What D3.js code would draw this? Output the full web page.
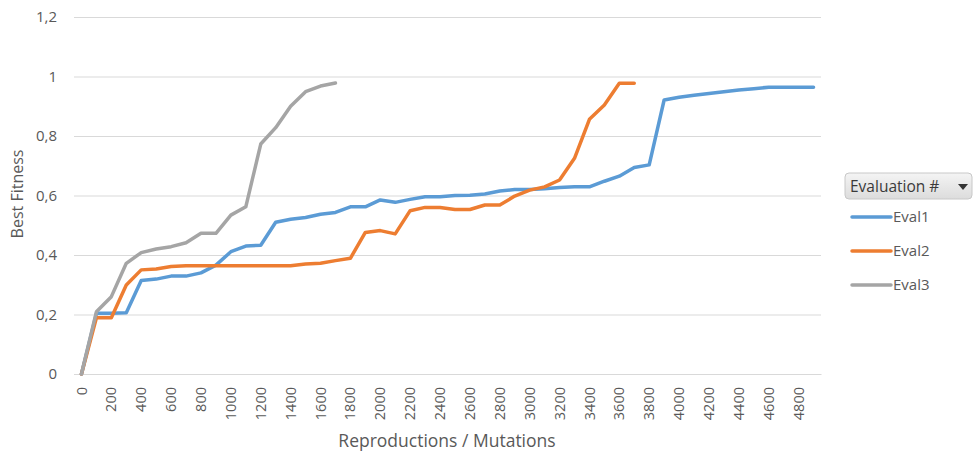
<!DOCTYPE html>
<html>
<head>
<meta charset="utf-8">
<script src="https://cdn.jsdelivr.net/npm/d3@7/dist/d3.min.js"></script>
<style>
  html, body { margin: 0; padding: 0; background: #fff; }
  svg { display: block; font-family: "Open Sans", "Noto Sans", sans-serif; }
</style>
</head>
<body>
<svg id="chart" width="973" height="455"></svg>
<script>
// Reproductions / mutations count, one category every 100
const categories = [0, 100, 200, 300, 400, 500, 600, 700, 800, 900,
  1000, 1100, 1200, 1300, 1400, 1500, 1600, 1700, 1800, 1900,
  2000, 2100, 2200, 2300, 2400, 2500, 2600, 2700, 2800, 2900,
  3000, 3100, 3200, 3300, 3400, 3500, 3600, 3700, 3800, 3900,
  4000, 4100, 4200, 4300, 4400, 4500, 4600, 4700, 4800, 4900];

// Best fitness per evaluation run
const eval1 = [0, 0.204, 0.204, 0.206, 0.314, 0.319, 0.329, 0.329, 0.34, 0.366,
  0.411, 0.43, 0.433, 0.51, 0.52, 0.526, 0.537, 0.543, 0.562, 0.562,
  0.585, 0.577, 0.587, 0.596, 0.596, 0.6, 0.601, 0.605, 0.615, 0.62,
  0.62, 0.623, 0.627, 0.629, 0.629, 0.648, 0.665, 0.694, 0.703, 0.921,
  0.93, 0.937, 0.943, 0.949, 0.955, 0.959, 0.964, 0.964, 0.964, 0.964];
const eval2 = [0, 0.189, 0.189, 0.299, 0.35, 0.353, 0.361, 0.364, 0.364, 0.364,
  0.364, 0.364, 0.364, 0.364, 0.364, 0.37, 0.372, 0.381, 0.389, 0.476,
  0.482, 0.471, 0.549, 0.56, 0.56, 0.553, 0.553, 0.568, 0.568, 0.598,
  0.618, 0.629, 0.652, 0.725, 0.856, 0.904, 0.977, 0.977];
const eval3 = [0, 0.209, 0.26, 0.372, 0.408, 0.42, 0.428, 0.441, 0.473, 0.473,
  0.534, 0.562, 0.773, 0.828, 0.9, 0.949, 0.968, 0.978];

const seriesNames = ["Eval1", "Eval2", "Eval3"];
const seriesColors = ["#5b9bd5", "#ed7d31", "#a5a5a5"];
const yTicks = [0, 0.2, 0.4, 0.6, 0.8, 1, 1.2];

const series = [eval1, eval2, eval3].map((values, k) => ({
  name: seriesNames[k], color: seriesColors[k], values
}));

const svg = d3.select("#chart");
const plot = { left: 74, right: 821, top: 17, bottom: 374 };

const x = d3.scaleBand().domain(categories).range([plot.left, plot.right]).padding(0);
const y = d3.scaleLinear().domain([0, 1.2]).range([plot.bottom, plot.top]);

const locale = d3.formatLocale({ decimal: ",", thousands: ".", grouping: [3], currency: ["", ""] });
const fmt = locale.format("~g");

const textColor = "#595959";

// Horizontal gridlines + value labels
const yAxis = d3.axisLeft(y).tickValues(yTicks).tickFormat(fmt)
  .tickSize(-(plot.right - plot.left)).tickPadding(17);
const gy = svg.append("g").attr("transform", `translate(${plot.left},0)`).call(yAxis);
gy.select(".domain").remove();
gy.selectAll(".tick line").attr("stroke", "#d9d9d9").attr("stroke-width", 1);
gy.selectAll(".tick text").attr("fill", textColor).style("font-size", "15px")
  .style("font-family", "'Open Sans', sans-serif");

// Category axis, label on every second category, rotated
const xAxis = d3.axisBottom(x)
  .tickValues(categories.filter((c, i) => i % 2 === 0))
  .tickSize(0).tickPadding(0);
const gx = svg.append("g").attr("transform", `translate(0,${plot.bottom})`).call(xAxis);
gx.select(".domain").attr("stroke", "#d9d9d9");
gx.selectAll(".tick text")
  .attr("fill", textColor)
  .style("font-size", "14.5px")
  .style("font-family", "'Open Sans', sans-serif")
  .attr("text-anchor", "end")
  .attr("transform", "rotate(-90)")
  .attr("x", -13)
  .attr("y", 0)
  .attr("dy", "0.35em");

// Lines
const line = d3.line()
  .x((d, i) => x(categories[i]) + x.bandwidth() / 2)
  .y(d => y(d));

svg.append("g").selectAll("path")
  .data(series)
  .join("path")
  .attr("d", d => line(d.values))
  .attr("fill", "none")
  .attr("stroke", d => d.color)
  .attr("stroke-width", 3.5)
  .attr("stroke-linejoin", "round")
  .attr("stroke-linecap", "round");

// Axis titles
svg.append("text")
  .attr("x", 447)
  .attr("y", 447)
  .attr("text-anchor", "middle")
  .attr("fill", textColor)
  .style("font-size", "17.5px")
  .text("Reproductions / Mutations");

svg.append("text")
  .attr("transform", `translate(23,194) rotate(-90)`)
  .attr("text-anchor", "middle")
  .attr("fill", textColor)
  .style("font-size", "16px")
  .text("Best Fitness");

// Legend with field button
const defs = svg.append("defs");
const grad = defs.append("linearGradient").attr("id", "btnGrad")
  .attr("x1", 0).attr("y1", 0).attr("x2", 0).attr("y2", 1);
grad.append("stop").attr("offset", "0%").attr("stop-color", "#f4f4f4");
grad.append("stop").attr("offset", "100%").attr("stop-color", "#dcdcdc");

const legend = svg.append("g");
legend.append("rect")
  .attr("x", 845).attr("y", 173).attr("width", 127).attr("height", 26)
  .attr("rx", 4).attr("fill", "url(#btnGrad)").attr("stroke", "#c8c8c8");
legend.append("text")
  .attr("x", 850).attr("y", 192)
  .attr("fill", "#3a3a3a").style("font-size", "15.5px")
  .text("Evaluation #");
legend.append("path")
  .attr("d", "M958,184 L968,184 L963,190 Z")
  .attr("fill", "#333");

const items = legend.selectAll("g.item").data(series).join("g")
  .attr("class", "item")
  .attr("transform", (d, i) => `translate(0,${217 + i * 34})`);
items.append("line")
  .attr("x1", 852).attr("x2", 891)
  .attr("stroke", d => d.color).attr("stroke-width", 3.5)
  .attr("stroke-linecap", "round");
items.append("text")
  .attr("x", 893).attr("y", 0).attr("dy", "0.35em")
  .attr("fill", textColor).style("font-size", "15px")
  .text(d => d.name);
</script>
</body>
</html>
